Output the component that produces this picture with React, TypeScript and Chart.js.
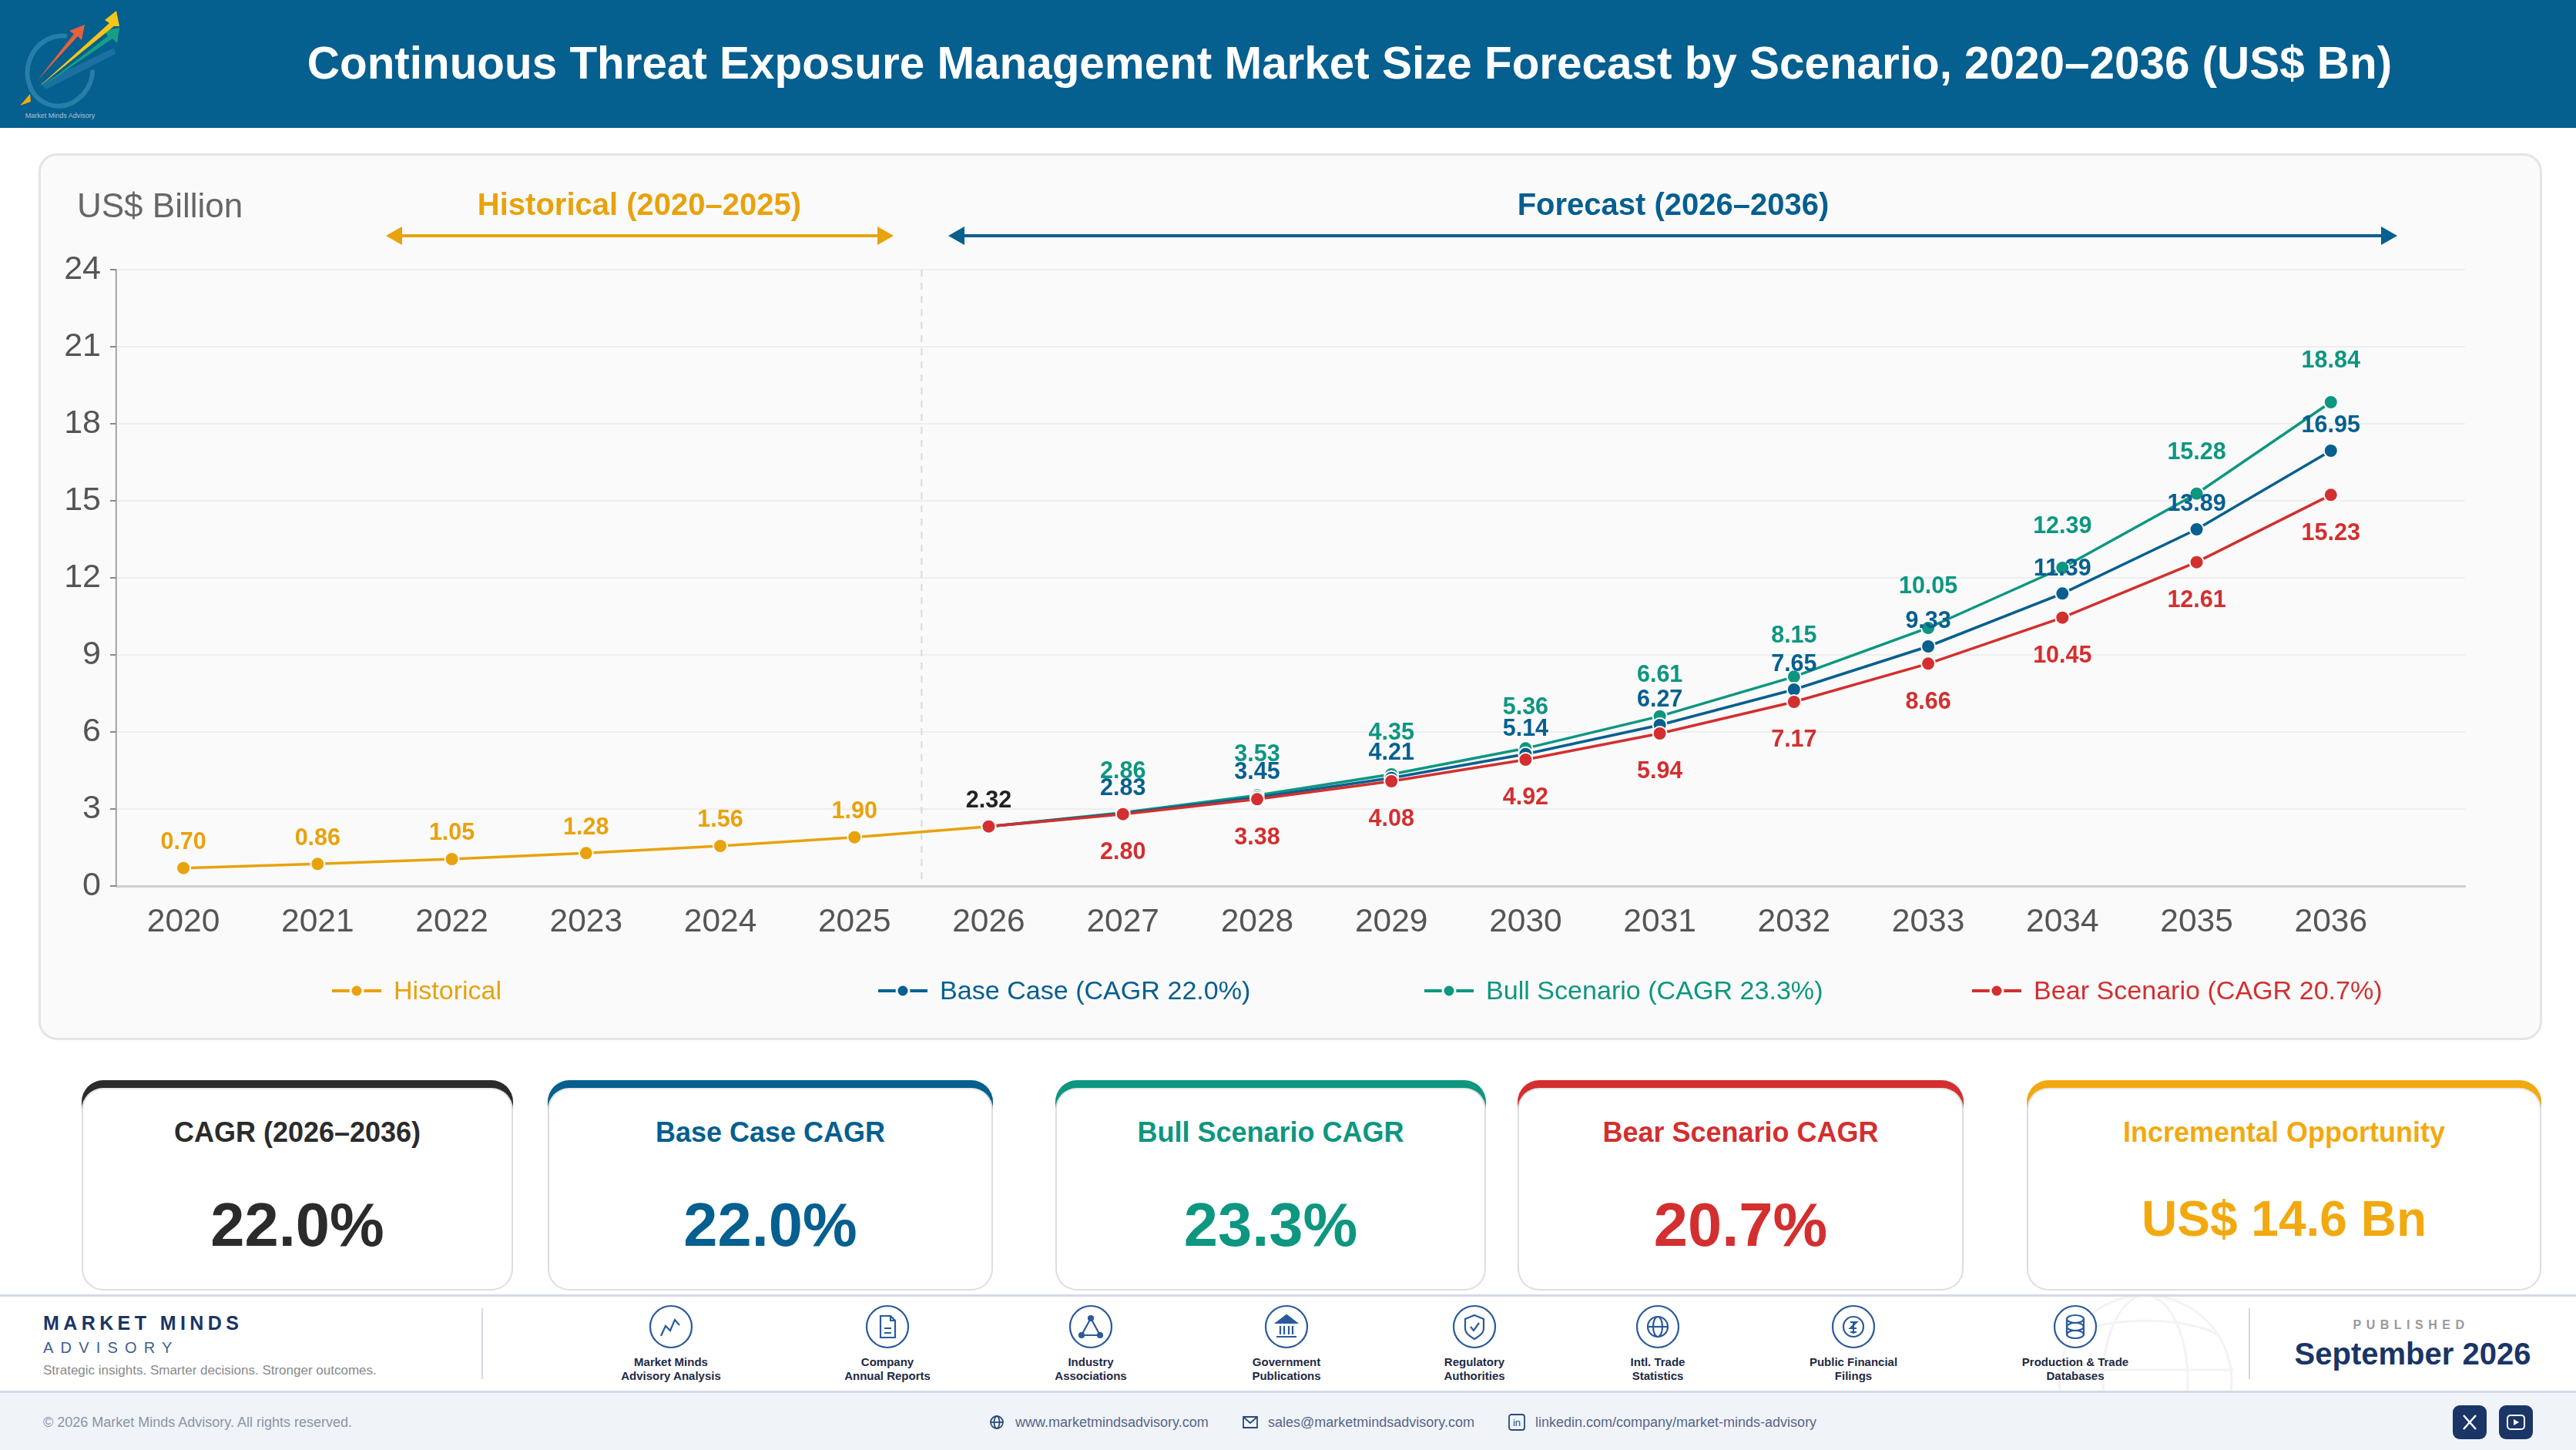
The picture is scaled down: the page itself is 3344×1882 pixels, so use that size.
import React, { useEffect, useRef } from "react";
import { Chart, registerables } from "chart.js";

Chart.register(...registerables);

const years = [2020, 2021, 2022, 2023, 2024, 2025, 2026, 2027, 2028, 2029, 2030, 2031, 2032, 2033, 2034, 2035, 2036];
const forecastYears = years.slice(6);
const historicalYears = years.slice(0, 7);

// last value is the 2026 joint, it has no label of its own
const historical = [0.7, 0.86, 1.05, 1.28, 1.56, 1.9, 2.32];
const baseCase = [2.32, 2.83, 3.45, 4.21, 5.14, 6.27, 7.65, 9.33, 11.39, 13.89, 16.95];
const bullCase = [2.32, 2.86, 3.53, 4.35, 5.36, 6.61, 8.15, 10.05, 12.39, 15.28, 18.84];
const bearCase = [2.32, 2.8, 3.38, 4.08, 4.92, 5.94, 7.17, 8.66, 10.45, 12.61, 15.23];

const GOLD = "#E8A20C";
const BLUE = "#055F8F";
const TEAL = "#0D9680";
const RED = "#D32F2F";
const NAVY = "#1A3566";
const FONT = '"Liberation Sans", Arial, sans-serif';

const legendNames = ["Historical", "Base Case (CAGR 22.0%)", "Bull Scenario (CAGR 23.3%)", "Bear Scenario (CAGR 20.7%)"];
const legendColors = [GOLD, BLUE, TEAL, RED];
const legendLeft = [431, 1140, 1849, 2560];

const cardTitles = ["CAGR (2026–2036)", "Base Case CAGR", "Bull Scenario CAGR", "Bear Scenario CAGR", "Incremental Opportunity"];
const cardValues = ["22.0%", "22.0%", "23.3%", "20.7%", "US$ 14.6 Bn"];
const cardColors = ["#2B2B2B", BLUE, TEAL, RED, "#F2A90F"];
const cardLeft = [106, 711, 1370, 1970, 2631];
const cardRight = [666, 1289, 1929, 2549, 3299];

const sourceLabels = [
  ["Market Minds", "Advisory Analysis"],
  ["Company", "Annual Reports"],
  ["Industry", "Associations"],
  ["Government", "Publications"],
  ["Regulatory", "Authorities"],
  ["Intl. Trade", "Statistics"],
  ["Public Financial", "Filings"],
  ["Production & Trade", "Databases"],
];
const sourceX = [871, 1152, 1416, 1670, 1914, 2152, 2406, 2694];

// offset of each value label from its point, canvas px
const labelOffset = { hist: -33, base: -32, bull: -53, bear: 50 };

const labelPlugin = {
  id: "valueLabels",
  beforeDatasetsDraw(chart: any) {
    const { ctx, scales, chartArea } = chart;
    const x = scales.x.getPixelForValue(2025.5);
    ctx.save();
    ctx.strokeStyle = "#DADADA";
    ctx.lineWidth = 2;
    ctx.setLineDash([9, 8]);
    ctx.beginPath();
    ctx.moveTo(x, chartArea.top);
    ctx.lineTo(x, chartArea.bottom);
    ctx.stroke();
    ctx.restore();
  },
  afterDatasetsDraw(chart: any) {
    const { ctx, scales } = chart;
    const put = (xv: number, yv: number, off: number, color: string) => {
      ctx.fillStyle = color;
      ctx.fillText(yv.toFixed(2), scales.x.getPixelForValue(xv), scales.y.getPixelForValue(yv) + off);
    };
    ctx.save();
    ctx.font = `bold 30.5px ${FONT}`;
    ctx.textAlign = "center";
    ctx.textBaseline = "middle";
    historical.slice(0, 6).forEach((v, i) => put(years[i], v, labelOffset.hist, GOLD));
    put(2026, baseCase[0], labelOffset.hist, "#222222");
    forecastYears.forEach((yr, i) => {
      if (i === 0) return;
      put(yr, bullCase[i], labelOffset.bull, TEAL);
      put(yr, baseCase[i], labelOffset.base, BLUE);
      put(yr, bearCase[i], labelOffset.bear, RED);
    });
    ctx.restore();
  },
};

const lineSet = (label: string, xs: number[], ys: number[], color: string, order: number) => ({
  label,
  data: ys.map((y, i) => ({ x: xs[i], y })),
  borderColor: color,
  backgroundColor: color,
  borderWidth: 3.5,
  pointRadius: 9,
  pointBorderColor: "#FAFAFA",
  pointBorderWidth: 2,
  tension: 0,
  order,
});

const Text = ({ x, y, size, color, bold, center, spacing, children }: any) => (
  <div
    style={{
      position: "absolute",
      left: x,
      top: y,
      transform: center ? "translate(-50%, -50%)" : "translateY(-50%)",
      fontSize: size,
      color,
      fontWeight: bold ? 700 : 400,
      letterSpacing: spacing,
      lineHeight: 1,
      whiteSpace: "nowrap",
    }}
  >
    {children}
  </div>
);

const Arrow = ({ x1, x2, y, color }: any) => (
  <svg style={{ position: "absolute", left: 0, top: 0 }} width={3344} height={400}>
    <line x1={x1 + 10} x2={x2 - 10} y1={y} y2={y} stroke={color} strokeWidth={4} />
    <polygon points={`${x1},${y} ${x1 + 21},${y - 12} ${x1 + 21},${y + 12}`} fill={color} />
    <polygon points={`${x2},${y} ${x2 - 21},${y - 12} ${x2 - 21},${y + 12}`} fill={color} />
  </svg>
);

const Logo = () => (
  <svg style={{ position: "absolute", left: 0, top: 0 }} width={170} height={166}>
    <ellipse cx={78} cy={92} rx={42} ry={46} fill="none" stroke="#2F86AE" strokeWidth={6} opacity={0.8} transform="rotate(20 78 92)" strokeDasharray="200 60" />
    <polygon points="52,108 148,62 150,70 60,116" fill="#1F74A3" opacity={0.8} />
    <polygon points="54,113 140,47 136,40 155,36 152,56 146,50" fill="#14A085" />
    <polygon points="50,113 142,30 136,26 151,14 155,34 148,34" fill="#F5C518" />
    <polygon points="48,105 96,44 90,40 110,32 106,52 101,47" fill="#E8603C" />
    <polygon points="26,137 39,122 40,132" fill="#F2A90F" />
    <text x={78} y={153} textAnchor="middle" fontSize={9} fill="#A9C4D4" fontFamily={FONT}>
      Market Minds Advisory
    </text>
  </svg>
);

const icons: React.ReactNode[] = [
  <polyline points="-13,12 -7,-1 -1,5 5,-9 11,-2" />,
  <path d="M-9,-14 H4 L10,-8 V14 H-9 Z M-4,2 H5 M-4,8 H5 M4,-14 V-8 H10" />,
  <>
    <polygon points="0,-11 -12,11 12,11" />
    <circle cx={0} cy={-11} r={3} fill="#2A5A9A" />
    <circle cx={-12} cy={11} r={3} fill="#2A5A9A" />
    <circle cx={12} cy={11} r={3} fill="#2A5A9A" />
  </>,
  <>
    <polygon points="0,-15 -13,-5 13,-5" fill="#2A5A9A" />
    <path d="M-8,-1 V10 M-3,-1 V10 M3,-1 V10 M8,-1 V10 M-13,13 H13" />
  </>,
  <path d="M0,-15 L12,-10 V2 C12,9 5,13 0,16 C-5,13 -12,9 -12,2 V-10 Z M-5,0 L-1,5 L6,-5" />,
  <>
    <circle cx={0} cy={0} r={13} />
    <ellipse cx={0} cy={0} rx={6} ry={13} />
    <path d="M-13,0 H13" />
  </>,
  <>
    <circle cx={0} cy={0} r={13} />
    <path d="M-4,-6 H4 L-4,2 H4 M-4,7 H4 M0,-6 V9" />
  </>,
  <>
    <ellipse cx={0} cy={-10} rx={11} ry={5} />
    <ellipse cx={0} cy={0} rx={11} ry={5} />
    <ellipse cx={0} cy={10} rx={11} ry={5} />
    <path d="M-11,-10 V10 M11,-10 V10" />
  </>,
];

const SourceIcon = ({ x, index }: any) => (
  <svg style={{ position: "absolute", left: x - 30, top: 1692 }} width={60} height={60} viewBox="-30 -30 60 60">
    <circle cx={0} cy={0} r={27} fill="#FFFFFF" stroke="#2A5A9A" strokeWidth={2.2} />
    <g fill="none" stroke="#2A5A9A" strokeWidth={2.2}>
      {icons[index]}
    </g>
  </svg>
);

const Watermark = () => (
  <svg style={{ position: "absolute", left: 2660, top: 1683 }} width={250} height={122} viewBox="0 0 250 122">
    <g fill="none" stroke="#F3F3F5" strokeWidth={3}>
      <circle cx={125} cy={110} r={112} />
      <ellipse cx={125} cy={110} rx={55} ry={112} />
      <path d="M30,50 C70,25 180,25 220,50 M10,95 H240" />
    </g>
  </svg>
);

const App = () => {
  const chartRef = useRef<HTMLCanvasElement | null>(null);

  useEffect(() => {
    const ctx = chartRef.current?.getContext("2d");
    if (!ctx) return;

    const chart = new Chart(ctx, {
      type: "line",
      data: {
        datasets: [
          lineSet("Historical", historicalYears, historical, GOLD, 4),
          lineSet("Base Case", forecastYears, baseCase, BLUE, 2),
          lineSet("Bull Scenario", forecastYears, bullCase, TEAL, 3),
          lineSet("Bear Scenario", forecastYears, bearCase, RED, 1),
        ],
      },
      options: {
        animation: false,
        responsive: false,
        devicePixelRatio: 1,
        layout: { padding: { top: 151, right: 100, left: 0, bottom: 0 } },
        plugins: { legend: { display: false }, tooltip: { enabled: false } },
        scales: {
          x: {
            type: "linear",
            min: 2019.5,
            max: 2037,
            afterBuildTicks: (scale: any) => {
              scale.ticks = years.map((value) => ({ value }));
            },
            afterFit: (scale: any) => {
              scale.height = 200;
            },
            grid: { display: false },
            border: { color: "#CFCFCF", width: 3 },
            ticks: {
              autoSkip: false,
              maxRotation: 0,
              padding: 14,
              color: "#555555",
              font: { family: FONT, size: 42.5 },
              callback: (v: any) => String(v),
            },
          },
          y: {
            min: 0,
            max: 24,
            afterFit: (scale: any) => {
              scale.width = 101;
            },
            grid: { color: "#EEEEEE", lineWidth: 2, tickColor: "#8A8A8A", tickLength: 8 },
            border: { color: "#8A8A8A", width: 1.5 },
            ticks: {
              stepSize: 3,
              padding: 12,
              color: "#555555",
              font: { family: FONT, size: 43 },
            },
          },
        },
      },
      plugins: [labelPlugin],
    } as any);

    return () => chart.destroy();
  }, []);

  return (
    <div style={{ position: "relative", width: 3344, height: 1882, overflow: "hidden", background: "#FFFFFF", fontFamily: FONT }}>
      <style>{"body{margin:0}"}</style>

      <div style={{ position: "absolute", left: 0, top: 0, width: 3344, height: 166, background: BLUE }} />
      <Logo />
      <Text x={1752} y={82} size={58.4} color="#FFFFFF" bold center>
        Continuous Threat Exposure Management Market Size Forecast by Scenario, 2020–2036 (US$ Bn)
      </Text>

      <div
        style={{
          position: "absolute",
          left: 50,
          top: 199,
          width: 3250,
          height: 1151,
          boxSizing: "border-box",
          background: "#FAFAFA",
          border: "3px solid #E4E4E4",
          borderRadius: 24,
        }}
      />
      <canvas ref={chartRef} width={3250} height={1151} style={{ position: "absolute", left: 50, top: 199 }} />

      <Text x={100} y={267} size={44} color="#666666">
        US$ Billion
      </Text>
      <Text x={830} y={265} size={40} color={GOLD} bold center>
        Historical (2020–2025)
      </Text>
      <Text x={2172} y={265} size={40} color={BLUE} bold center>
        Forecast (2026–2036)
      </Text>
      <Arrow x1={501} x2={1160} y={306} color={GOLD} />
      <Arrow x1={1231} x2={3112} y={306} color={BLUE} />

      {legendNames.map((name, i) => (
        <React.Fragment key={name}>
          <svg style={{ position: "absolute", left: legendLeft[i], top: 1270 }} width={64} height={32}>
            <line x1={0} x2={64} y1={16} y2={16} stroke={legendColors[i]} strokeWidth={4} />
            <circle cx={32} cy={16} r={8} fill={legendColors[i]} stroke="#FAFAFA" strokeWidth={3} />
          </svg>
          <Text x={legendLeft[i] + 80} y={1285} size={34.1} color={legendColors[i]}>
            {name}
          </Text>
        </React.Fragment>
      ))}

      {cardTitles.map((title, i) => (
        <React.Fragment key={title}>
          {/* coloured cap sits behind the white card, so its corners taper */}
          <div
            style={{
              position: "absolute",
              left: cardLeft[i],
              top: 1402,
              width: cardRight[i] - cardLeft[i],
              height: 60,
              background: cardColors[i],
              borderRadius: "28px 28px 0 0",
            }}
          />
          <div
            style={{
              position: "absolute",
              left: cardLeft[i],
              top: 1412,
              width: cardRight[i] - cardLeft[i],
              height: 263,
              boxSizing: "border-box",
              background: "#FFFFFF",
              border: "2px solid #DEDEDE",
              borderTopColor: "#E6E6E6",
              borderRadius: 28,
            }}
          />
          <Text x={(cardLeft[i] + cardRight[i]) / 2} y={1470} size={36} color={cardColors[i]} bold center>
            {title}
          </Text>
          <Text x={(cardLeft[i] + cardRight[i]) / 2} y={i === 4 ? 1582 : 1590} size={i === 4 ? 64 : 79.5} color={cardColors[i]} bold center>
            {cardValues[i]}
          </Text>
        </React.Fragment>
      ))}

      <div style={{ position: "absolute", left: 0, top: 1680, width: 3344, height: 3, background: "#D5D9E6" }} />
      <Watermark />
      <div style={{ position: "absolute", left: 0, top: 1805, width: 3344, height: 77, background: "#F0F4F9", borderTop: "3px solid #D5D9E6", boxSizing: "border-box" }} />

      <Text x={56} y={1717} size={25} color={NAVY} bold spacing={5.4}>
        MARKET MINDS
      </Text>
      <Text x={56} y={1749} size={20} color="#3F5F8F" spacing={9.2}>
        ADVISORY
      </Text>
      <Text x={56} y={1778} size={17} color="#8A8A8A">
        Strategic insights. Smarter decisions. Stronger outcomes.
      </Text>
      <div style={{ position: "absolute", left: 625, top: 1698, width: 2, height: 92, background: "#D5D9E6" }} />
      <div style={{ position: "absolute", left: 2919, top: 1698, width: 2, height: 92, background: "#D5D9E6" }} />

      {sourceLabels.map((lines, i) => (
        <React.Fragment key={lines[0]}>
          <SourceIcon x={sourceX[i]} index={i} />
          <Text x={sourceX[i]} y={1767} size={15} color="#1E2A44" bold center>
            {lines[0]}
          </Text>
          <Text x={sourceX[i]} y={1785} size={15} color="#1E2A44" bold center>
            {lines[1]}
          </Text>
        </React.Fragment>
      ))}

      <Text x={3130} y={1720} size={16} color="#999999" bold center spacing={6.5}>
        PUBLISHED
      </Text>
      <Text x={3132} y={1757} size={40} color={NAVY} bold center>
        September 2026
      </Text>

      <Text x={56} y={1846} size={18} color="#8A94A6">
        © 2026 Market Minds Advisory. All rights reserved.
      </Text>
      <svg style={{ position: "absolute", left: 1284, top: 1836 }} width={20} height={20} viewBox="-10 -10 20 20">
        <g fill="none" stroke="#2A4A7A" strokeWidth={1.8}>
          <circle r={8} />
          <ellipse rx={3.5} ry={8} />
          <path d="M-8,0 H8" />
        </g>
      </svg>
      <Text x={1318} y={1846} size={18} color="#56658A">
        www.marketmindsadvisory.com
      </Text>
      <svg style={{ position: "absolute", left: 1613, top: 1836 }} width={20} height={20}>
        <path d="M1,3 H19 V17 H1 Z M1,3 L10,11 L19,3" fill="none" stroke="#2A4A7A" strokeWidth={1.8} />
      </svg>
      <Text x={1646} y={1846} size={18} color="#56658A">
        sales@marketmindsadvisory.com
      </Text>
      <svg style={{ position: "absolute", left: 1958, top: 1835 }} width={22} height={22}>
        <rect x={1} y={1} width={20} height={20} rx={3} fill="none" stroke="#2A4A7A" strokeWidth={1.8} />
        <text x={11} y={16} textAnchor="middle" fontSize={13} fill="#2A4A7A" fontFamily={FONT}>
          in
        </text>
      </svg>
      <Text x={1993} y={1846} size={18} color="#56658A">
        linkedin.com/company/market-minds-advisory
      </Text>

      <div style={{ position: "absolute", left: 3184, top: 1824, width: 44, height: 44, borderRadius: 9, background: NAVY }} />
      <svg style={{ position: "absolute", left: 3184, top: 1824 }} width={44} height={44}>
        <path d="M14,13 L30,31 M30,13 L14,31" stroke="#FFFFFF" strokeWidth={2.5} />
      </svg>
      <div style={{ position: "absolute", left: 3244, top: 1824, width: 44, height: 44, borderRadius: 9, background: NAVY }} />
      <svg style={{ position: "absolute", left: 3244, top: 1824 }} width={44} height={44}>
        <rect x={11} y={13} width={22} height={18} rx={4} fill="none" stroke="#FFFFFF" strokeWidth={2} />
        <polygon points="19,18 19,26 26,22" fill="#FFFFFF" />
      </svg>
    </div>
  );
};

export default App;
